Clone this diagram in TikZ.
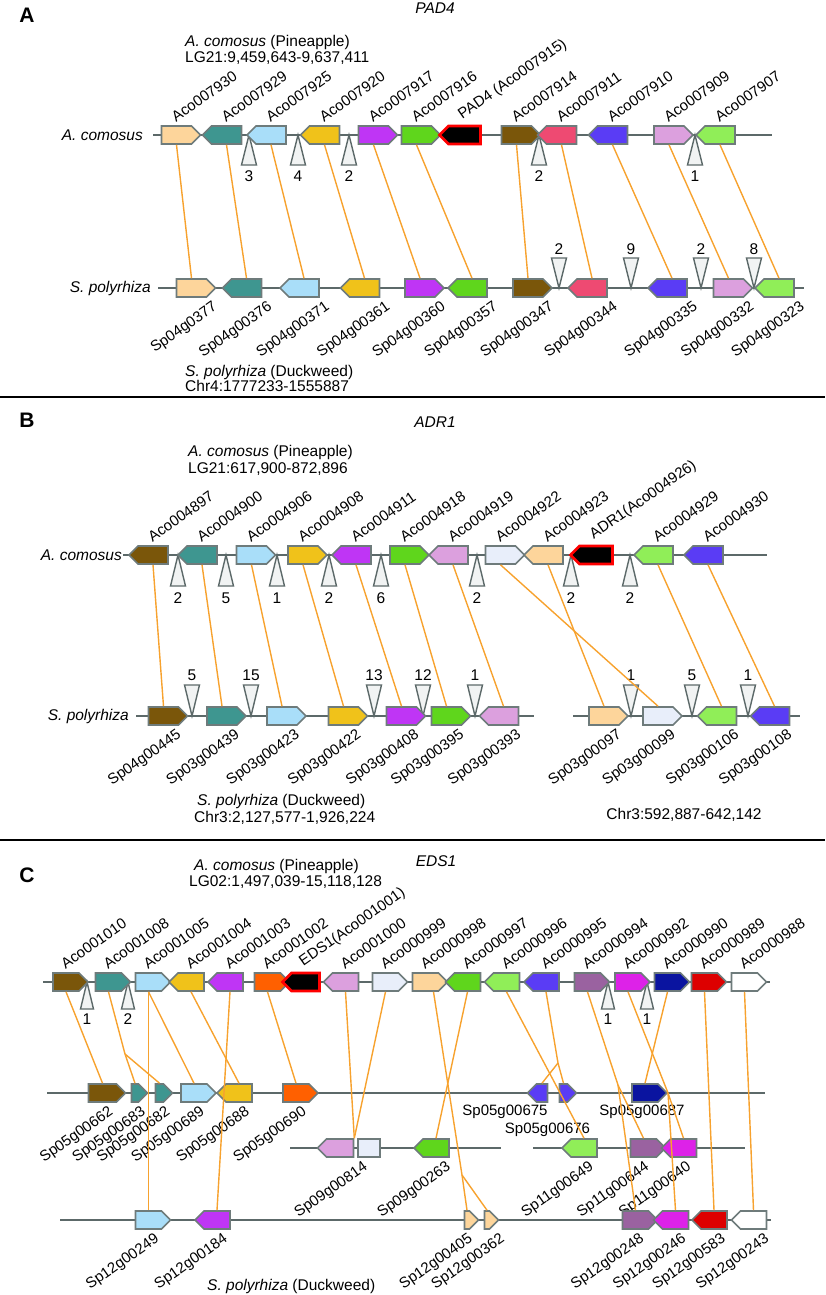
\documentclass[tikz,border=0pt]{standalone}
\usepackage{fontspec}
\setmainfont{Liberation Sans}
\usetikzlibrary{shapes.symbols}

\definecolor{cLorange}{HTML}{FDD59B}
\definecolor{cTeal}{HTML}{3E9690}
\definecolor{cLblue}{HTML}{A9DEF9}
\definecolor{cYellow}{HTML}{F0C21A}
\definecolor{cPurple}{HTML}{BF35F5}
\definecolor{cGreen}{HTML}{5FD61C}
\definecolor{cBrown}{HTML}{7A560A}
\definecolor{cPink}{HTML}{EE4A72}
\definecolor{cBlue}{HTML}{5A3CF5}
\definecolor{cPlum}{HTML}{DCA0DE}
\definecolor{cLgreen}{HTML}{90EE58}
\definecolor{cLav}{HTML}{E8EEFA}
\definecolor{cOrred}{HTML}{FF6000}
\definecolor{cMauve}{HTML}{9A62A0}
\definecolor{cMagenta}{HTML}{DD22E8}
\definecolor{cNavy}{HTML}{0A14A0}
\definecolor{cRed}{HTML}{DD0000}
\definecolor{cEdge}{HTML}{6E7B7B}
\definecolor{cChrom}{HTML}{5C6969}
\definecolor{cLink}{HTML}{F7A22E}
\definecolor{cIns}{HTML}{F1F3F3}

\newcommand{\hdrfont}{\fontsize{15.5}{16}\selectfont}
\newcommand{\genefont}{\fontsize{15}{15}\selectfont}
\newcommand{\numfont}{\fontsize{15.5}{15.5}\selectfont}
\newcommand{\letterfont}{\fontsize{21}{21}\selectfont}

\begin{document}
\begin{tikzpicture}[
    x=1pt, y=1pt, label distance=1pt,
    gene/.style={signal, signal pointer angle=90, draw=cEdge, line width=1.6pt, minimum width=39pt, minimum height=18pt, inner sep=0pt},
    fw/.style={gene, signal to=east},
    rv/.style={gene, signal to=west},
    target/.style={fill=black, draw=red, line width=2.6pt},
    chrom/.style={draw=cChrom, line width=1.6pt},
    link/.style={draw=cLink, line width=1.4pt},
    ins/.style={draw=cChrom, fill=cIns, line width=1.4pt},
    num/.style={font=\numfont, inner sep=0pt},
    tlab/.style={anchor=south west, rotate=35, inner sep=1pt, font=\genefont},
    blab/.style={xshift=#1, anchor=north east, rotate=35, inner sep=1pt, font=\genefont},
    blab/.default=5pt,
    hlab/.style={inner sep=1pt, font=\genefont},
    txt/.style={anchor=west, inner sep=0pt, font=\hdrfont},
    row/.style={anchor=east, inner sep=0pt, font=\itshape\hdrfont},
    sect/.style={draw=black, line width=2pt}
]
    \useasboundingbox (0,0) rectangle (825,-1295);

    % 1. Separators between the three panels
    \draw[sect] (0,-397) -- (825,-397);
    \draw[sect] (0,-840) -- (825,-840);

    % ================= A: PAD4 =================
    \node[font=\bfseries\letterfont] (lA) at (27,-15) {A};
    \node[font=\itshape\hdrfont] (tA) at (435,-8) {PAD4};
    \node[txt] (pA) at (185,-42) {\textit{A. comosus} (Pineapple)};
    \node[txt] (cA) at (185,-58) {LG21:9,459,643-9,637,411};
    \node[txt] (sA) at (185,-372) {\textit{S. polyrhiza} (Duckweed)};
    \node[txt] (dA) at (185,-386) {Chr4:1777233-1555887};
    \node[row] (rA1) at (143,-135) {A. comosus};
    \node[row] (rA2) at (151,-288) {S. polyrhiza};
    \draw[chrom] (153,-135) -- (772,-135);
    \draw[chrom] (158,-288) -- (804,-288);

    % insertions (number of genes in between)
    \draw[ins] (249,-135) -- (241.5,-165) -- (256.5,-165) -- cycle; \node[num] (nA1) at (249,-176) {3};
    \draw[ins] (298,-135) -- (290.5,-165) -- (305.5,-165) -- cycle; \node[num] (nA2) at (298,-176) {4};
    \draw[ins] (349,-135) -- (341.5,-165) -- (356.5,-165) -- cycle; \node[num] (nA3) at (349,-176) {2};
    \draw[ins] (539,-135) -- (531.5,-165) -- (546.5,-165) -- cycle; \node[num] (nA4) at (539,-176) {2};
    \draw[ins] (695,-135) -- (687.5,-165) -- (702.5,-165) -- cycle; \node[num] (nA5) at (695,-176) {1};
    \draw[ins] (559,-288) -- (551.5,-258) -- (566.5,-258) -- cycle; \node[num] (nA6) at (559,-249) {2};
    \draw[ins] (631,-288) -- (623.5,-258) -- (638.5,-258) -- cycle; \node[num] (nA7) at (631,-249) {9};
    \draw[ins] (701,-288) -- (693.5,-258) -- (708.5,-258) -- cycle; \node[num] (nA8) at (701,-249) {2};
    \draw[ins] (754,-288) -- (746.5,-258) -- (761.5,-258) -- cycle; \node[num] (nA9) at (754,-249) {8};

    % pineapple genes
    \node[fw, fill=cLorange, label={[tlab]above:Aco007930}] (PA1) at (176.5,-135) {};
    \node[rv, fill=cTeal,    label={[tlab]above:Aco007929}] (PA2) at (226.5,-135) {};
    \node[rv, fill=cLblue,   label={[tlab]above:Aco007925}] (PA3) at (271,-135) {};
    \node[rv, fill=cYellow,  label={[tlab]above:Aco007920}] (PA4) at (324.5,-135) {};
    \node[fw, fill=cPurple,  label={[tlab]above:Aco007917}] (PA5) at (373.5,-135) {};
    \node[fw, fill=cGreen,   label={[tlab]above:Aco007916}] (PA6) at (416.5,-135) {};
    \node[rv, target, minimum width=41pt, label={[tlab]above:PAD4 (Aco007915)}] (PA7) at (464.5,-135) {};
    \node[fw, fill=cBrown,   label={[tlab]above:Aco007914}] (PA8) at (516.5,-135) {};
    \node[rv, fill=cPink,    label={[tlab]above:Aco007911}] (PA9) at (561.5,-135) {};
    \node[rv, fill=cBlue,    label={[tlab]above:Aco007910}] (PA10) at (612.5,-135) {};
    \node[fw, fill=cPlum,    label={[tlab]above:Aco007909}] (PA11) at (669,-135) {};
    \node[rv, fill=cLgreen,  label={[tlab]above:Aco007907}] (PA12) at (720,-135) {};

    % duckweed genes
    \node[fw, fill=cLorange, label={[blab=20pt]below:Sp04g0377}] (SA1) at (191.5,-288) {};
    \node[rv, fill=cTeal,    label={[blab=20pt]below:Sp04g00376}] (SA2) at (246.5,-288) {};
    \node[rv, fill=cLblue,   label={[blab=20pt]below:Sp04g00371}] (SA3) at (304,-288) {};
    \node[rv, fill=cYellow,  label={[blab=20pt]below:Sp04g00361}] (SA4) at (364.5,-288) {};
    \node[fw, fill=cPurple,  label={[blab=20pt]below:Sp04g00360}] (SA5) at (420,-288) {};
    \node[rv, fill=cGreen,   label={[blab=20pt]below:Sp04g00357}] (SA6) at (472,-288) {};
    \node[fw, fill=cBrown,   label={[blab=20pt]below:Sp04g00347}] (SA7) at (528,-288) {};
    \node[rv, fill=cPink,    label={[blab=20pt]below:Sp04g00344}] (SA8) at (592,-288) {};
    \node[rv, fill=cBlue,    label={[blab=20pt]below:Sp04g00335}] (SA9) at (672,-288) {};
    \node[fw, fill=cPlum,    label={[blab=20pt]below:Sp04g00332}] (SA10) at (728.5,-288) {};
    \node[rv, fill=cLgreen,  label={[blab=20pt]below:Sp04g00323}] (SA11) at (779,-288) {};

    % syntenic links
    \draw[link] (PA1.south) -- (SA1.north);
    \draw[link] (PA2.south) -- (SA2.north);
    \draw[link] (PA3.south) -- (SA3.north);
    \draw[link] (PA4.south) -- (SA4.north);
    \draw[link] (PA5.south) -- (SA5.north);
    \draw[link] (PA6.south) -- (SA6.north);
    \draw[link] (PA8.south) -- (SA7.north);
    \draw[link] (PA9.south) -- (SA8.north);
    \draw[link] (PA10.south) -- (SA9.north);
    \draw[link] (PA11.south) -- (SA10.north);
    \draw[link] (PA12.south) -- (SA11.north);

    % ================= B: ADR1 =================
    \node[font=\bfseries\letterfont] (lB) at (27,-420) {B};
    \node[font=\itshape\hdrfont] (tB) at (435,-422) {ADR1};
    \node[txt] (pB) at (188,-452) {\textit{A. comosus} (Pineapple)};
    \node[txt] (cB) at (188,-469) {LG21:617,900-872,896};
    \node[txt] (sB) at (197,-801) {\textit{S. polyrhiza} (Duckweed)};
    \node[txt] (dB) at (194,-818) {Chr3:2,127,577-1,926,224};
    \node[txt, anchor=center] (eB) at (684,-815) {Chr3:592,887-642,142};
    \node[row] (rB1) at (122,-555) {A. comosus};
    \node[row] (rB2) at (129,-716) {S. polyrhiza};
    \draw[chrom] (123,-555) -- (767,-555);
    \draw[chrom] (136,-716) -- (534,-716);
    \draw[chrom] (573,-716) -- (800,-716);

    % insertions
    \draw[ins] (178,-555) -- (170.5,-586) -- (185.5,-586) -- cycle; \node[num] (nB1) at (178,-598) {2};
    \draw[ins] (226,-555) -- (218.5,-586) -- (233.5,-586) -- cycle; \node[num] (nB2) at (226,-598) {5};
    \draw[ins] (277,-555) -- (269.5,-586) -- (284.5,-586) -- cycle; \node[num] (nB3) at (277,-598) {1};
    \draw[ins] (329,-555) -- (321.5,-586) -- (336.5,-586) -- cycle; \node[num] (nB4) at (329,-598) {2};
    \draw[ins] (381,-555) -- (373.5,-586) -- (388.5,-586) -- cycle; \node[num] (nB5) at (381,-598) {6};
    \draw[ins] (477,-555) -- (469.5,-586) -- (484.5,-586) -- cycle; \node[num] (nB6) at (477,-598) {2};
    \draw[ins] (571,-555) -- (563.5,-586) -- (578.5,-586) -- cycle; \node[num] (nB7) at (571,-598) {2};
    \draw[ins] (630,-555) -- (622.5,-586) -- (637.5,-586) -- cycle; \node[num] (nB8) at (630,-598) {2};
    \draw[ins] (192,-716) -- (184.5,-685) -- (199.5,-685) -- cycle; \node[num] (nB9) at (192,-675) {5};
    \draw[ins] (251,-716) -- (243.5,-685) -- (258.5,-685) -- cycle; \node[num] (nB10) at (251,-675) {15};
    \draw[ins] (374,-716) -- (366.5,-685) -- (381.5,-685) -- cycle; \node[num] (nB11) at (374,-675) {13};
    \draw[ins] (423,-716) -- (415.5,-685) -- (430.5,-685) -- cycle; \node[num] (nB12) at (423,-675) {12};
    \draw[ins] (475,-716) -- (467.5,-685) -- (482.5,-685) -- cycle; \node[num] (nB13) at (475,-675) {1};
    \draw[ins] (631,-716) -- (623.5,-685) -- (638.5,-685) -- cycle; \node[num] (nB14) at (631,-675) {1};
    \draw[ins] (692,-716) -- (684.5,-685) -- (699.5,-685) -- cycle; \node[num] (nB15) at (692,-675) {5};
    \draw[ins] (748,-716) -- (740.5,-685) -- (755.5,-685) -- cycle; \node[num] (nB16) at (748,-675) {1};

    % pineapple genes
    \node[rv, fill=cBrown,   label={[tlab]above:Aco004897}] (PB1) at (153,-555) {};
    \node[rv, fill=cTeal,    label={[tlab]above:Aco004900}] (PB2) at (202,-555) {};
    \node[fw, fill=cLblue,   label={[tlab]above:Aco004906}] (PB3) at (251.5,-555) {};
    \node[fw, fill=cYellow,  label={[tlab]above:Aco004908}] (PB4) at (303,-555) {};
    \node[rv, fill=cPurple,  label={[tlab]above:Aco004911}] (PB5) at (356,-555) {};
    \node[fw, fill=cGreen,   label={[tlab]above:Aco004918}] (PB6) at (405,-555) {};
    \node[rv, fill=cPlum,    label={[tlab]above:Aco004919}] (PB7) at (453,-555) {};
    \node[fw, fill=cLav,     label={[tlab]above:Aco004922}] (PB8) at (500.5,-555) {};
    \node[rv, fill=cLorange, label={[tlab]above:Aco004923}] (PB9) at (548,-555) {};
    \node[rv, target, minimum width=42pt, label={[tlab]above:ADR1(Aco004926)}] (PB10) at (596,-555) {};
    \node[rv, fill=cLgreen,  label={[tlab]above:Aco004929}] (PB11) at (658,-555) {};
    \node[rv, fill=cBlue,    label={[tlab]above:Aco004930}] (PB12) at (708,-555) {};

    % duckweed genes
    \node[fw, fill=cBrown,   label={[blab=12pt]below:Sp04g00445}] (SB1) at (163.5,-716) {};
    \node[fw, fill=cTeal,    label={[blab=12pt]below:Sp03g00439}] (SB2) at (222,-716) {};
    \node[fw, fill=cLblue,   label={[blab=12pt]below:Sp03g00423}] (SB3) at (282,-716) {};
    \node[fw, fill=cYellow,  label={[blab=12pt]below:Sp03g00422}] (SB4) at (343.5,-716) {};
    \node[fw, fill=cPurple,  label={[blab=12pt]below:Sp03g00408}] (SB5) at (401.5,-716) {};
    \node[fw, fill=cGreen,   label={[blab=12pt]below:Sp03g00395}] (SB6) at (446.5,-716) {};
    \node[rv, fill=cPlum,    label={[blab=12pt]below:Sp03g00393}] (SB7) at (503.5,-716) {};
    \node[fw, fill=cLorange, label={[blab=12pt]below:Sp03g00097}] (SB8) at (604,-716) {};
    \node[fw, fill=cLav,     label={[blab=12pt]below:Sp03g00099}] (SB9) at (658,-716) {};
    \node[rv, fill=cLgreen,  label={[blab=12pt]below:Sp03g00106}] (SB10) at (721.5,-716) {};
    \node[rv, fill=cBlue,    label={[blab=12pt]below:Sp03g00108}] (SB11) at (774.5,-716) {};

    % syntenic links
    \draw[link] (PB1.south) -- (SB1.north);
    \draw[link] (PB2.south) -- (SB2.north);
    \draw[link] (PB3.south) -- (SB3.north);
    \draw[link] (PB4.south) -- (SB4.north);
    \draw[link] (PB5.south) -- (SB5.north);
    \draw[link] (PB6.south) -- (SB6.north);
    \draw[link] (PB7.south) -- (SB7.north);
    \draw[link] (PB8.south) -- (SB9.north);
    \draw[link] (PB9.south) -- (SB8.north);
    \draw[link] (PB11.south) -- (SB10.north);
    \draw[link] (PB12.south) -- (SB11.north);

    % ================= C: EDS1 =================
    \node[font=\bfseries\letterfont] (lC) at (27,-875) {C};
    \node[font=\itshape\hdrfont] (tC) at (436,-861) {EDS1};
    \node[txt] (pC) at (194,-866) {\textit{A. comosus} (Pineapple)};
    \node[txt] (cC) at (189,-882) {LG02:1,497,039-15,118,128};
    \node[txt] (sC) at (207,-1286) {\textit{S. polyrhiza} (Duckweed)};
    \draw[chrom] (43,-982) -- (770,-982);
    \draw[chrom] (47,-1093) -- (765,-1093);
    \draw[chrom] (290,-1148) -- (501,-1148);
    \draw[chrom] (533,-1148) -- (745,-1148);
    \draw[chrom] (60,-1220) -- (771,-1220);

    % insertions
    \draw[ins] (87,-982) -- (80.5,-1009) -- (93.5,-1009) -- cycle; \node[num] (nC1) at (87,-1019) {1};
    \draw[ins] (128,-982) -- (121.5,-1009) -- (134.5,-1009) -- cycle; \node[num] (nC2) at (128,-1019) {2};
    \draw[ins] (608,-982) -- (601.5,-1009) -- (614.5,-1009) -- cycle; \node[num] (nC3) at (608,-1019) {1};
    \draw[ins] (647,-982) -- (640.5,-1009) -- (653.5,-1009) -- cycle; \node[num] (nC4) at (647,-1019) {1};

    \begin{scope}[gene/.append style={minimum width=35pt}]
    % pineapple genes
    \node[fw, fill=cBrown,   label={[tlab]above:Aco001010}] (PC1) at (66,-982) {};
    \node[fw, fill=cTeal,    label={[tlab]above:Aco001008}] (PC2) at (108.5,-982) {};
    \node[fw, fill=cLblue,   label={[tlab]above:Aco001005}] (PC3) at (148.5,-982) {};
    \node[rv, fill=cYellow,  label={[tlab]above:Aco001004}] (PC4) at (191,-982) {};
    \node[rv, fill=cPurple,  label={[tlab]above:Aco001003}] (PC5) at (230,-982) {};
    \node[fw, fill=cOrred,   label={[tlab]above:Aco001002}] (PC6) at (267.5,-982) {};
    \node[rv, target, minimum width=37pt, label={[tlab]above:EDS1(Aco001001)}] (PC7) at (305.5,-982) {};
    \node[rv, fill=cPlum,    label={[tlab]above:Aco001000}] (PC8) at (345.5,-982) {};
    \node[fw, fill=cLav,     label={[tlab]above:Aco000999}] (PC9) at (385.5,-982) {};
    \node[fw, fill=cLorange, label={[tlab]above:Aco000998}] (PC10) at (425.5,-982) {};
    \node[rv, fill=cGreen,   label={[tlab]above:Aco000997}] (PC11) at (467.5,-982) {};
    \node[rv, fill=cLgreen,  label={[tlab]above:Aco000996}] (PC12) at (506.5,-982) {};
    \node[rv, fill=cBlue,    label={[tlab]above:Aco000995}] (PC13) at (546,-982) {};
    \node[fw, fill=cMauve,   label={[tlab]above:Aco000994}] (PC14) at (587.5,-982) {};
    \node[fw, fill=cMagenta, label={[tlab]above:Aco000992}] (PC15) at (628,-982) {};
    \node[fw, fill=cNavy,    label={[tlab]above:Aco000990}] (PC16) at (667.5,-982) {};
    \node[fw, fill=cRed,     label={[tlab]above:Aco000989}] (PC17) at (704.5,-982) {};
    \node[fw, fill=white,    label={[tlab]above:Aco000988}] (PC18) at (744.5,-982) {};

    % duckweed genes, chromosome 5
    \node[fw, fill=cBrown, minimum width=37pt, label={[blab]below:Sp05g00662}] (SC1) at (102.5,-1093) {};
    \node[fw, fill=cTeal,  minimum width=16pt, label={[blab]below:Sp05g00683}] (SC2) at (135,-1093) {};
    \node[fw, fill=cTeal,  minimum width=17pt, label={[blab]below:Sp05g00682}] (SC3) at (159.5,-1093) {};
    \node[fw, fill=cLblue,   label={[blab]below:Sp05g00689}] (SC4) at (194,-1093) {};
    \node[rv, fill=cYellow,  label={[blab]below:Sp05g00688}] (SC5) at (239,-1093) {};
    \node[fw, fill=cOrred,   label={[blab]below:Sp05g00690}] (SC6) at (296,-1093) {};
    \node[rv, fill=cBlue, minimum width=20pt, label={[hlab, xshift=-37pt]below:Sp05g00675}] (SC7) at (542,-1093) {};
    \node[fw, fill=cBlue, minimum width=17pt, label={[hlab, xshift=-16pt, yshift=-18pt]below:Sp05g00676}] (SC8) at (563.5,-1093) {};
    \node[fw, fill=cNavy,    label={[hlab, xshift=-3pt]below:Sp05g00687}] (SC9) at (645,-1093) {};

    % duckweed genes, chromosomes 9 and 11
    \node[draw=cEdge, line width=1.6pt, fill=cLav, minimum width=22pt, minimum height=18pt, inner sep=0pt] (SC11) at (369,-1148) {};
    \node[rv, fill=cPlum, minimum width=36pt, label={[blab=22pt]below:Sp09g00814}] (SC10) at (340,-1148) {};
    \node[rv, fill=cGreen,   label={[blab=9pt]below:Sp09g00263}] (SC12) at (436,-1148) {};
    \node[rv, fill=cLgreen,  label={[blab=4pt]below:Sp11g00649}] (SC13) at (584,-1148) {};
    \node[fw, fill=cMauve,   label={[blab=0pt]below:Sp11g00644}] (SC14) at (643.5,-1148) {};
    \node[rv, fill=cMagenta, label={[blab=2pt]below:Sp11g00640}] (SC15) at (683.5,-1148) {};

    % duckweed genes, chromosome 12
    \node[fw, fill=cLblue,   label={[blab]below:Sp12g00249}] (SC16) at (148.5,-1220) {};
    \node[rv, fill=cPurple,  label={[blab]below:Sp12g00184}] (SC17) at (217,-1220) {};
    \node[fw, fill=cLorange, minimum width=14pt, label={[blab=0pt]below:Sp12g00405}] (SC18) at (467,-1220) {};
    \node[fw, fill=cLorange, minimum width=14pt, label={[blab=12pt]below:Sp12g00362}] (SC19) at (487,-1220) {};
    \node[fw, fill=cMauve,   label={[blab=3pt]below:Sp12g00248}] (SC20) at (635.5,-1220) {};
    \node[rv, fill=cMagenta, label={[blab]below:Sp12g00246}] (SC21) at (675.5,-1220) {};
    \node[rv, fill=cRed,     label={[blab=6pt]below:Sp12g00583}] (SC22) at (714,-1220) {};
    \node[rv, fill=white,    label={[blab=10pt]below:Sp12g00243}] (SC23) at (753.5,-1220) {};
    \end{scope}

    % branch points of the links
    \coordinate (fk1) at (125,-1054);
    \coordinate (fk2) at (462,-1175);
    \coordinate (fk3) at (558,-1063);
    \coordinate (fk4) at (618,-1085);
    \coordinate (fk5) at (668,-1093);

    % syntenic links
    \draw[link] (PC1.south) -- (SC1.north);
    \draw[link] (PC2.south) -- (fk1) -- (SC2.north);
    \draw[link] (fk1) -- (SC3.north);
    \draw[link] (PC3.south) -- (SC4.north);
    \draw[link] (PC3.south) -- (SC16.north);
    \draw[link] (PC4.south) -- (SC5.north);
    \draw[link] (PC5.south) -- (SC17.north);
    \draw[link] (PC6.south) -- (SC6.north);
    \draw[link] (PC8.south) -- (SC10.north east);
    \draw[link] (PC9.south) -- (SC10.north east);
    \draw[link] ([xshift=8pt]PC10.south) -- (fk2) -- (SC18.north);
    \draw[link] (fk2) -- (SC19.north);
    \draw[link] (PC11.south) -- (SC12.north);
    \draw[link] (PC12.south) -- (SC13.north);
    \draw[link] (PC13.south) -- (fk3) -- (SC8.north);
    \draw[link] (fk3) -- (SC7.north);
    \draw[link] (PC14.south) -- (fk4) -- (SC14.north);
    \draw[link] (fk4) -- (SC20.north);
    \draw[link] (PC15.south) -- (fk5) -- (SC15.north);
    \draw[link] (fk5) -- (SC21.north);
    \draw[link] (PC16.south) -- (SC9.north);
    \draw[link] (PC17.south) -- (SC22.north);
    \draw[link] (PC18.south) -- (SC23.north);

\end{tikzpicture}
\end{document}
